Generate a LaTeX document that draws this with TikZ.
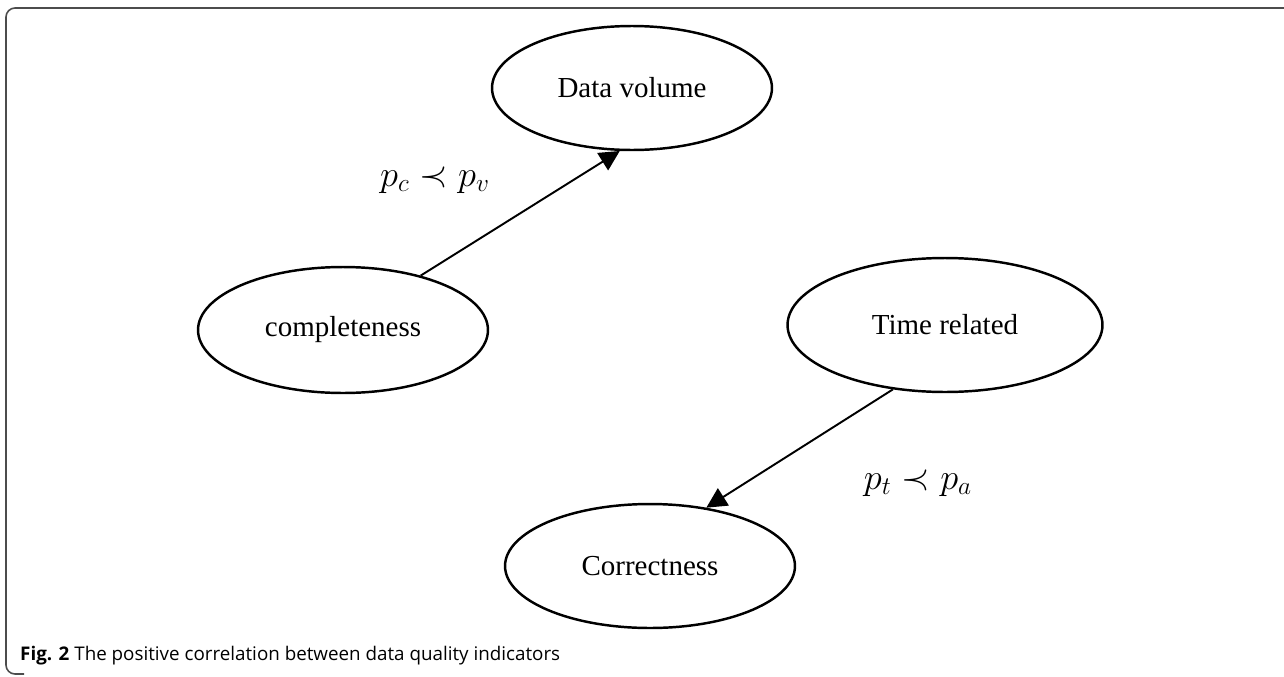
\documentclass[tikz,border=0pt]{standalone}
\usepackage{amsmath,amssymb}
\usepackage{fontspec}
\setmainfont{Liberation Serif}
\newfontfamily\capfont{Open Sans}
\usetikzlibrary{shapes.geometric,arrows.meta}

\begin{document}
\begin{tikzpicture}[x=0.02cm,y=-0.02cm,
                    ell/.style={ellipse,draw,line width=1.4pt,inner sep=0pt,
                                font=\fontsize{16.5}{19}\selectfont},
                    conn/.style={line width=1.1pt,-{Triangle[length=11.5pt,width=11.5pt]}},
                    lab/.style={font=\fontsize{20}{24}\selectfont},
                    frame/.style={line width=0.9pt,gray!60!black,rounded corners=0.18cm}]
                    \useasboundingbox (0,0) rectangle (1284,676);
                    \draw[frame] (1284,8)--(6,8)--(6,674)--(24,674);
                    % indicators
                    \node[ell,minimum width=5.6cm,minimum height=2.48cm] (dv) at (632,88) {Data volume};
                    \node[ell,minimum width=5.8cm,minimum height=2.52cm] (cmp) at (343,330) {completeness};
                    \node[ell,minimum width=6.3cm,minimum height=2.68cm] (tr) at (945,325) {Time related};
                    \node[ell,minimum width=5.8cm,minimum height=2.48cm] (cor) at (650,566) {Correctness};
                    % correlations
                    \draw[conn] (cmp.35)--(dv.-101);
                    \draw[conn] (tr.-129)--(cor.46);
                    \node[lab] (lcv) at (435,180) {$p_c \prec p_v$};
                    \node[lab] (lta) at (918,483) {$p_t \prec p_a$};
                    \node[anchor=base west,font=\capfont\fontsize{10.7}{12}\selectfont] (cap) at (14,660)
                        {\textbf{Fig. 2} The positive correlation between data quality indicators};
                \end{tikzpicture}
\end{document}
